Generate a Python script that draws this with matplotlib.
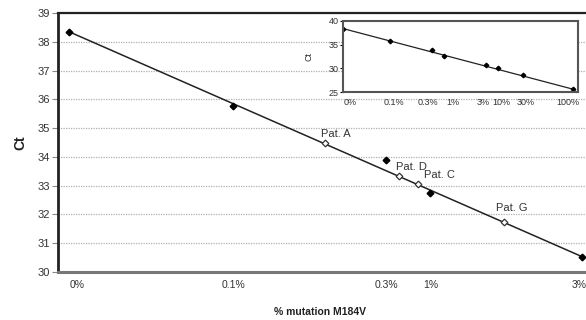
import matplotlib.pyplot as plt
import numpy as np

# standards (main plot), x is position along the axis
std_labels = ['0%', '0.1%', '0.3%', '1%', '3%']
std_x = [0, 32.0, 61.8, 70.4, 100]
std_ct = [38.35, 35.77, 33.9, 32.75, 30.53]
tick_x = [1.6, 32.0, 61.8, 70.4, 99.4]

# patients
pat_names = ['Pat. A', 'Pat. D', 'Pat. C', 'Pat. G']
pat_x = [49.9, 64.3, 68.0, 84.8]
pat_ct = [34.49, 33.34, 33.06, 31.74]

# inset standards
ins_labels = ['0%', '0.1%', '0.3%', '1%', '3%', '10%', '30%', '100%']
ins_x = [0, 20.4, 38.7, 43.9, 62.2, 67.4, 78.3, 100]
ins_ct = [38.4, 35.8, 33.9, 32.7, 30.6, 30.1, 28.6, 25.6]
ins_tick_x = [3, 22, 37, 48, 61, 69, 79.6, 98]

W, H = 586, 320
fig = plt.figure(figsize=(W / 100, H / 100), dpi=100)
ax = fig.add_axes([58 / W, 1 - 272 / H, (592 - 58) / W, (272 - 13) / H])

ax.plot([std_x[0], std_x[-1]], [std_ct[0], std_ct[-1]], color='#222222', lw=1.1, zorder=2)
ax.plot(std_x, std_ct, 'D', color='black', ms=3.4, zorder=3)
ax.plot(pat_x, pat_ct, 'D', mfc='white', mec='#333333', ms=3.4, mew=0.9, zorder=3)
offsets = [(-3, 4), (-2, 4), (4, 4), (-6, 8)]
for n, x, y, (dx, dy) in zip(pat_names, pat_x, pat_ct, offsets):
    ax.annotate(n, (x, y), xytext=(dx, dy), textcoords='offset points',
                fontsize=8, color='#333333', family='Liberation Sans')

ax.set_xlim(-2.14, 101.9)
ax.set_ylim(30, 39)
ax.set_yticks(range(30, 40))
ax.set_xticks(tick_x)
ax.set_xticklabels(std_labels)
ax.tick_params(axis='x', length=0, pad=6, labelsize=7.5, labelcolor='#333333')
ax.tick_params(axis='y', length=4, width=0.8, color='#888888', labelsize=8, labelcolor='#333333', pad=2)
for lab in ax.get_xticklabels() + ax.get_yticklabels():
    lab.set_family('Liberation Sans')
ax.grid(axis='y', linestyle=(0, (1, 1)), color='#b0b0b0', lw=0.9)
ax.set_axisbelow(True)
ax.spines['right'].set_visible(False)
ax.spines['left'].set_linewidth(2)
ax.spines['left'].set_color('#222222')
ax.spines['top'].set_linewidth(1.6)
ax.spines['top'].set_color('#222222')
ax.spines['bottom'].set_linewidth(2.2)
ax.spines['bottom'].set_color('#777777')
ax.set_xlabel('% mutation M184V', fontsize=7.5, fontweight='bold', family='Liberation Sans',
              color='#222222')
ax.xaxis.set_label_coords((320 - 58) / (592 - 58), -(307 - 272) / (272 - 13))
ax.set_ylabel('Ct', fontsize=10, fontweight='bold', family='Liberation Sans', color='#222222')
ax.yaxis.set_label_coords(-(58 - 27) / (592 - 58), 0.5)

# inset
ins = fig.add_axes([343 / W, 1 - 92 / H, (578 - 343) / W, (92 - 21) / H])
ins.plot([ins_x[0], ins_x[-1]], [ins_ct[0], ins_ct[-1]], color='#222222', lw=0.9)
ins.plot(ins_x, ins_ct, 'D', color='black', ms=2.3)
ins.set_xlim(0, 102.2)
ins.set_ylim(25, 40)
ins.set_yticks([25, 30, 35, 40])
ins.set_xticks(ins_tick_x)
ins.set_xticklabels(ins_labels)
ins.tick_params(axis='x', length=0, pad=4, labelsize=6.5, labelcolor='#333333')
ins.tick_params(axis='y', length=2, labelsize=6.5, labelcolor='#333333', pad=1)
for lab in ins.get_xticklabels() + ins.get_yticklabels():
    lab.set_family('Liberation Sans')
for s in ins.spines.values():
    s.set_linewidth(1.5)
    s.set_color('#555555')
ins.set_ylabel('Ct', fontsize=6.5, family='Liberation Sans', color='#333333')
ins.yaxis.set_label_coords(-(343 - 314) / (578 - 343), 0.5)

fig.savefig('out.png', dpi=100)
